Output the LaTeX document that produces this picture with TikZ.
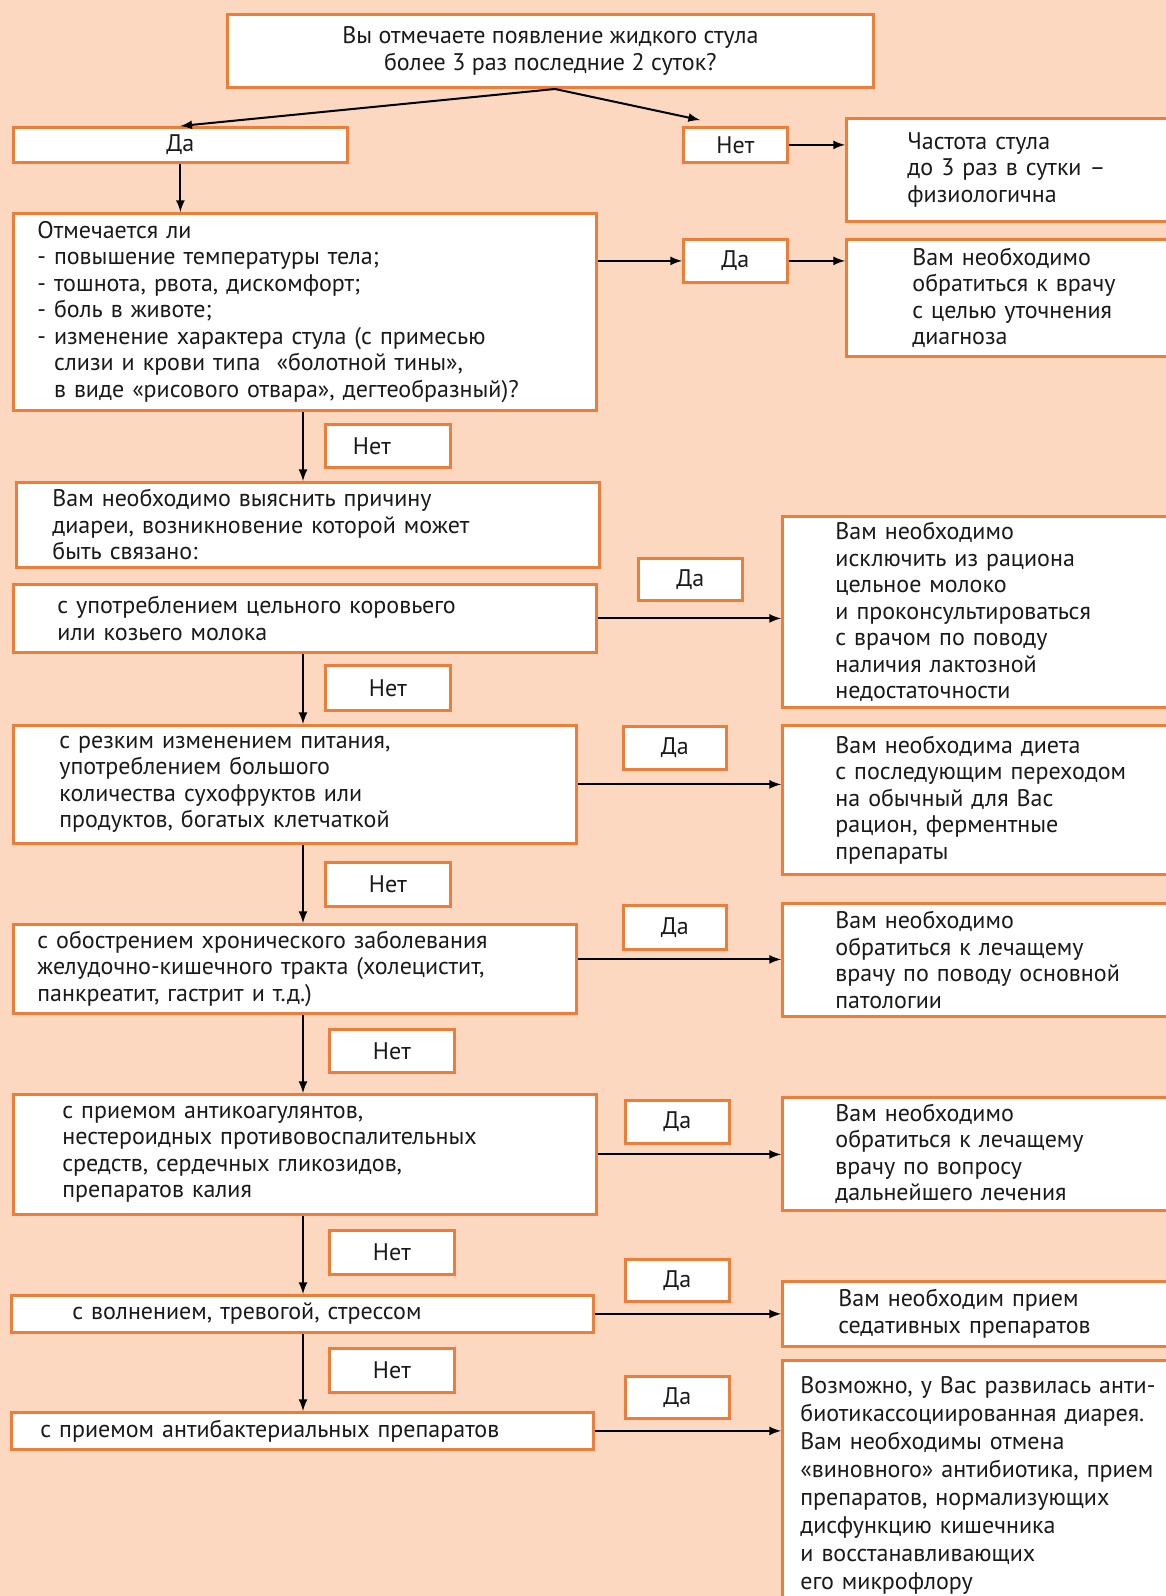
\documentclass[tikz,border=0pt]{standalone}
\usepackage{fontspec}
\setmainfont{PT Sans}
\usetikzlibrary{arrows}

\definecolor{bgpeach}{HTML}{FBD8BF}
\definecolor{boxline}{HTML}{EE7D3A}
\definecolor{ink}{HTML}{1A1A1A}

\tikzset{
  box/.style={draw=boxline, fill=white, line width=1.4pt, inner ysep=0pt,
    anchor=north west, align=left, text=ink,
    font=\fontsize{12pt}{13.25pt}\selectfont},
  ans/.style={box, align=center, inner sep=0pt, minimum height=21.5pt},
  rbox/.style={box, text width=150pt},
  arr/.style={-latex, line width=1pt, black}
}

\begin{document}
\begin{tikzpicture}[x=0.5pt,y=-0.5pt]
\useasboundingbox (0,0) rectangle (1166,1596);
\fill[bgpeach] (0,0) rectangle (1166,1596);
\coordinate (spine) at (303,0); % vertical line of "Нет"
\coordinate (fork) at (555,89);

% question at the top
\node[box, align=center, inner sep=0pt, minimum width=323pt, minimum height=36.5pt] (q1) at (226,13)
  {Вы отмечаете появление жидкого стула\\более 3 раз последние 2 суток?};
\node[ans, minimum width=167pt, minimum height=17.5pt] (yes0) at (12,126) {Да};
\node[ans, minimum width=52pt, minimum height=17.5pt] (no0) at (682,126) {Нет};
\node[rbox, inner xsep=30.5pt, minimum height=51.5pt] (r1) at (845,117)
  {Частота стула\\до 3 раз в сутки –\\физиологична};

% symptoms
\node[box, inner xsep=12pt, text width=267.5pt, minimum height=98.5pt] (q2) at (12,212)
  {Отмечается ли\\- повышение температуры тела;\\- тошнота, рвота, дискомфорт;\\- боль в животе;\\- изменение характера стула (с примесью\\\hphantom{- }слизи и крови типа \ «болотной тины»,\\\hphantom{- }в виде «рисового отвара», дегтеобразный)?};
\node[ans, minimum width=52pt] (yes1) at (682,238) {Да};
\node[rbox, inner xsep=33pt, minimum height=58.5pt] (r2) at (845,238)
  {Вам необходимо\\обратиться к врачу\\с целью уточнения\\диагноза};

% causes, left column
\node[box, inner xsep=18pt, text width=255.5pt, minimum height=42.5pt] (c0) at (15,481)
  {Вам необходимо выяснить причину\\диареи, возникновение которой может\\быть связано:};
\node[box, inner xsep=22pt, text width=247.5pt, minimum height=34pt] (c1) at (12,583)
  {с употреблением цельного коровьего\\или козьего молока};
\node[box, inner xsep=23pt, text width=235.5pt, minimum height=59pt] (c2) at (12,724)
  {с резким изменением питания,\\употреблением большого\\количества сухофруктов или\\продуктов, богатых клетчаткой};
\node[box, inner xsep=12pt, text width=257.5pt, minimum height=44.5pt] (c3) at (12,923)
  {с обострением хронического заболевания\\желудочно-кишечного тракта (холецистит,\\панкреатит, гастрит и т.д.)};
\node[box, inner xsep=24.5pt, text width=242.5pt, minimum height=60pt] (c4) at (12,1093)
  {с приемом антикоагулянтов,\\нестероидных противовоспалительных\\средств, сердечных гликозидов,\\препаратов калия};
\node[box, inner xsep=30.5pt, text width=230pt, minimum height=18.5pt] (c5) at (10,1294)
  {с волнением, тревогой, стрессом};
\node[box, inner xsep=14.5pt, text width=262pt, minimum height=18.5pt] (c6) at (10,1411)
  {с приемом антибактериальных препаратов};

% Нет labels
\node[ans, minimum width=62.5pt] (no1) at (324,423) {Нет\hspace*{16pt}};
\node[ans, minimum width=62.5pt, minimum height=22.5pt] (no2) at (324,664) {Нет};
\node[ans, minimum width=62.5pt, minimum height=22pt] (no3) at (324,861) {Нет};
\node[ans, minimum width=62.5pt] (no4) at (328,1028) {Нет};
\node[ans, minimum width=62.5pt, minimum height=22pt] (no5) at (328,1229) {Нет};
\node[ans, minimum width=62.5pt, minimum height=22pt] (no6) at (328,1347) {Нет};

% Да labels
\node[ans, minimum width=52pt, minimum height=21pt] (yes2) at (637,557) {Да};
\node[ans, minimum width=51.5pt] (yes3) at (622,725) {Да};
\node[ans, minimum width=51.5pt, minimum height=22pt] (yes4) at (622,904) {Да};
\node[ans, minimum width=52pt] (yes5) at (624,1099) {Да};
\node[ans, minimum width=52pt, minimum height=21pt] (yes6) at (624,1258) {Да};
\node[ans, minimum width=52pt, minimum height=21pt] (yes7) at (624,1375) {Да};

% advice, right column
\node[rbox, inner xsep=26.5pt, minimum height=95.5pt] (r3) at (781,515)
  {Вам необходимо\\исключить из рациона\\цельное молоко\\и проконсультироваться\\с врачом по поводу\\наличия лактозной\\недостаточности};
\node[rbox, inner xsep=26.5pt, minimum height=74.5pt] (r4) at (781,724)
  {Вам необходима диета\\с последующим переходом\\на обычный для Вас\\рацион, ферментные\\препараты};
\node[rbox, inner xsep=26.5pt, minimum height=56.5pt] (r5) at (781,902)
  {Вам необходимо\\обратиться к лечащему\\врачу по поводу основной\\патологии};
\node[rbox, inner xsep=26.5pt, minimum height=56.5pt] (r6) at (781,1096)
  {Вам необходимо\\обратиться к лечащему\\врачу по вопросу\\дальнейшего лечения};
\node[rbox, inner xsep=28pt, minimum height=32.5pt] (r7) at (781,1280)
  {Вам необходим прием\\седативных препаратов};
\node[rbox, inner xsep=9pt, text width=190pt, minimum height=125.5pt,
  font=\fontsize{12pt}{14pt}\selectfont] (r8) at (781,1359)
  {Возможно, у Вас развилась анти-\\биотикассоциированная диарея.\\Вам необходимы отмена\\«виновного» антибиотика, прием\\препаратов, нормализующих\\дисфункцию кишечника\\и восстанавливающих\\его микрофлору};

% connectors
\draw[arr] (fork) -- (yes0.north);
\draw[arr] (fork) -- ([shift={(18,-6)}]no0.north west);
\draw[arr] (no0.east) -- (no0.east -| r1.west);
\draw[arr] (yes0.south) -- (yes0.south |- q2.north);
\draw[arr] (q2.east |- yes1) -- (yes1.west);
\draw[arr] (yes1.east) -- (yes1.east -| r2.west);
\foreach \a/\b in {q2/c0,c1/c2,c2/c3,c3/c4,c4/c5,c5/c6}
  \draw[arr] (\a.south -| spine) -- (\b.north -| spine);
\foreach \a/\b in {c1/r3,c2/r4,c4/r6,c5/r7,c6/r8}
  \draw[arr] (\a.east) -- (\a.east -| \b.west);
\draw[arr] ([yshift=4.75pt]c3.east) -- ([yshift=4.75pt]c3.east -| r5.west);
\end{tikzpicture}
\end{document}
